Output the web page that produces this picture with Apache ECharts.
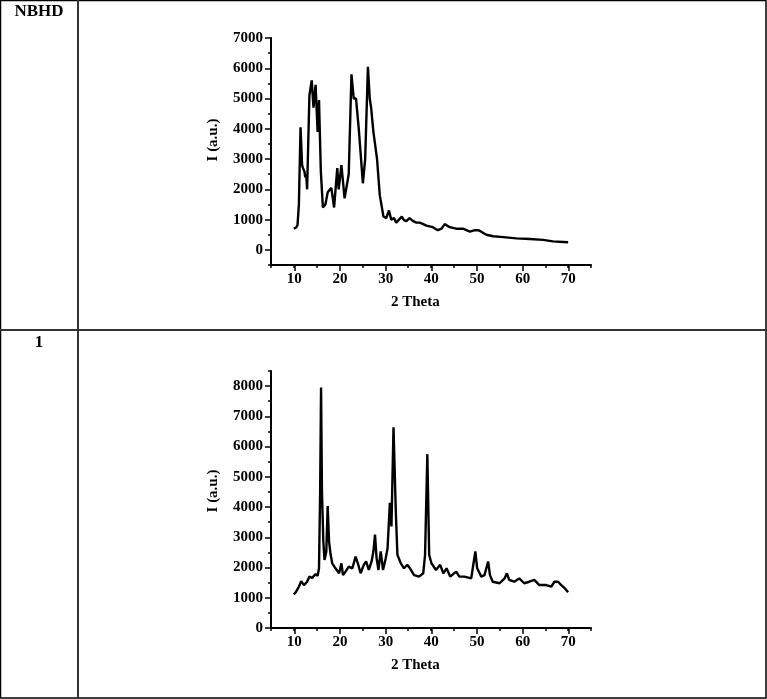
<!DOCTYPE html>
<html>
<head>
<meta charset="utf-8">
<script src="https://cdn.jsdelivr.net/npm/echarts@6/dist/echarts.min.js"></script>
<style>
  html, body { margin: 0; padding: 0; background: #fff; }
  #chart { width: 767px; height: 699px; }
</style>
</head>
<body>
<div id="chart"></div>
<script>
// NBHD pattern: [2 theta, intensity]
const nbhdData = [
  [10, 700], [10.3, 760], [10.5, 740], [10.8, 820], [11.1, 1500], [11.46, 4050], [11.8, 2800],
  [12, 2700], [12.3, 2600], [12.5, 2400], [12.7, 2500], [12.9, 2000], [13.4, 5100],
  [13.9, 5600], [14.3, 4700], [14.75, 5450], [15.2, 3900], [15.5, 4950], [15.9, 2600],
  [16.35, 1400], [16.9, 1500], [17.4, 1900], [18.2, 2050], [18.8, 1400], [19.5, 2700],
  [19.8, 2000], [20.4, 2800], [21.1, 1700], [21.5, 1650], [22, 2500], [22.6, 5800],
  [23.1, 5000], [23.6, 5000], [24.2, 4000], [25.1, 2200], [25.6, 3000], [26.2, 6050],
  [26.6, 5000], [26.9, 4700], [27.4, 3900], [28.2, 3000], [28.8, 1800], [29.6, 1100],
  [30.2, 1050], [30.8, 1300], [31.3, 1000], [31.9, 1050], [32.4, 900], [33.6, 1100], [34.1, 980], [34.6, 950],
  [35.3, 1050], [36, 960], [36.8, 900], [37.5, 900], [38.2, 860], [39, 800], [40.4, 750], [41.5, 650],
  [42.3, 700], [43, 850], [44.1, 750], [45.5, 700], [47, 700], [48.5, 600],
  [49.6, 650], [50.3, 650], [51, 600], [52.1, 500], [53.6, 450], [55.8, 420], [58.7, 380],
  [61.6, 360], [64.5, 330], [66.7, 280], [68.9, 260], [70, 250]
]

// compound 1 pattern: [2 theta, intensity]
const comp1Data = [
  [10, 1110], [10.4, 1180], [11.1, 1365], [11.6, 1550], [12.2, 1420], [12.9, 1530],
  [13.4, 1700], [14, 1660], [14.75, 1780], [15.2, 1730], [15.5, 1975], [15.75, 4500],
  [15.95, 7950], [16.15, 4500], [16.45, 2860], [16.7, 2250], [17.1, 2530], [17.4, 4030],
  [17.7, 2860], [18.05, 2420], [18.4, 2140], [19.1, 1975], [19.9, 1810], [20.4, 2140],
  [20.75, 1750], [21.3, 1865], [22, 2030], [22.8, 1975], [23.5, 2360], [24, 2140],
  [24.6, 1810], [25.3, 2090], [25.8, 2200], [26.4, 1920], [27, 2200], [27.4, 2530],
  [27.75, 3090], [28.1, 2310], [28.5, 1920], [29, 2530], [29.5, 1920], [30.1, 2310],
  [30.5, 2640], [31, 4140], [31.35, 3360], [31.8, 6640], [32.3, 3860], [32.65, 2420],
  [33.4, 2140], [34.1, 1975], [34.8, 2090], [35.4, 1975], [36.3, 1750], [37.4, 1700],
  [38.3, 1810], [38.7, 2420], [39.2, 5750], [39.6, 2420], [40.1, 2140], [41.1, 1920],
  [42, 2090], [42.7, 1810], [43.4, 1975], [44.2, 1700], [45.5, 1865], [46.2, 1700],
  [47.3, 1700], [48.8, 1640], [49.3, 2140], [49.7, 2530], [50.1, 1975], [51, 1700],
  [51.7, 1750], [52.5, 2200], [52.9, 1750], [53.5, 1530], [55, 1480], [56.1, 1640],
  [56.6, 1810], [57.1, 1590], [58.2, 1530], [59.3, 1640], [60.4, 1480], [61.5, 1530],
  [62.6, 1590], [63.7, 1420], [65.2, 1420], [66.3, 1365], [67, 1530], [67.8, 1530],
  [68.5, 1420], [69.3, 1310], [70, 1180]
]

const rowLabels = ['NBHD', '1']
const xName = '2 Theta'
const yName = 'I (a.u.)'

const font = 'Liberation Serif'
const chart = echarts.init(document.getElementById('chart'))

const txt = { fontFamily: font, fontWeight: 'bold', fontSize: 15, color: '#000' }
const plain = v => String(v)

// main axes: line + minor ticks, no labels
const mainX = (gridIndex) => ({
  type: 'value', gridIndex, min: 5, max: 75, interval: 5,
  axisLine: { show: true, onZero: false, lineStyle: { color: '#000', width: 2 } },
  axisTick: { show: true, length: 3, lineStyle: { color: '#000', width: 1.5 } },
  axisLabel: { show: false },
  splitLine: { show: false }
})
const mainY = (gridIndex, min, max) => ({
  type: 'value', gridIndex, min, max, interval: 500,
  axisLine: { show: true, onZero: false, lineStyle: { color: '#000', width: 2 } },
  axisTick: { show: true, length: 3, lineStyle: { color: '#000', width: 1.5 } },
  axisLabel: { show: false },
  splitLine: { show: false }
})
// hidden helper axis
const hidden = (gridIndex) => ({ type: 'value', gridIndex, min: 0, max: 1, show: false })
// major ticks + labels
const majX = (gridIndex) => ({
  type: 'value', gridIndex, min: 10, max: 70, interval: 10,
  name: xName, nameLocation: 'middle', nameGap: 30,
  nameTextStyle: Object.assign({ padding: [0, 32, 0, 0] }, txt),
  axisLine: { show: false, onZero: false },
  axisTick: { show: true, length: 6, lineStyle: { color: '#000', width: 1.5 } },
  axisLabel: Object.assign({ margin: 7, formatter: plain }, txt),
  splitLine: { show: false }
})
const majY = (gridIndex, max, shift) => ({
  type: 'value', gridIndex, min: 0, max, interval: 1000,
  name: yName, nameLocation: 'middle', nameGap: 50,
  nameTextStyle: Object.assign({ padding: [0, 0, 0, shift] }, txt),
  axisLine: { show: false, onZero: false },
  axisTick: { show: true, length: 6, lineStyle: { color: '#000', width: 1.5 } },
  axisLabel: Object.assign({ margin: 8, formatter: plain }, txt),
  splitLine: { show: false }
})

const option = {
  backgroundColor: '#fff',
  animation: false,
  grid: [
    // top chart: main, x-major, y-major
    { left: 271, top: 38, width: 320, height: 227 },
    { left: 294.3, top: 38, width: 274, height: 227 },
    { left: 271, top: 38, width: 320, height: 212 },
    // bottom chart
    { left: 271, top: 371, width: 320, height: 257 },
    { left: 294.3, top: 371, width: 274, height: 257 },
    { left: 271, top: 386, width: 320, height: 242 }
  ],
  xAxis: [mainX(0), majX(1), hidden(2), mainX(3), majX(4), hidden(5)],
  yAxis: [mainY(0, -500, 7000), hidden(1), majY(2, 7000, 8), mainY(3, 0, 8500), hidden(4), majY(5, 8000, 32)],
  series: [
    {
      type: 'line', xAxisIndex: 0, yAxisIndex: 0, data: nbhdData,
      showSymbol: false, lineStyle: { color: '#000', width: 2.4 }
    },
    {
      type: 'line', xAxisIndex: 3, yAxisIndex: 3, data: comp1Data,
      showSymbol: false, lineStyle: { color: '#000', width: 2.4 }
    }
  ],
  graphic: [
    // table borders
    { type: 'rect', shape: { x: 0.5, y: 0.5, width: 765.5, height: 697.5 }, style: { fill: 'none', stroke: '#000', lineWidth: 1.5 } },
    { type: 'line', shape: { x1: 0, y1: 330, x2: 767, y2: 330 }, style: { stroke: '#333', lineWidth: 2 } },
    { type: 'line', shape: { x1: 78, y1: 0, x2: 78, y2: 699 }, style: { stroke: '#333', lineWidth: 2 } },
    {
      type: 'text', style: {
        text: rowLabels[0], x: 39, y: 12, align: 'center', verticalAlign: 'middle',
        font: 'bold 17px "Liberation Serif"', fill: '#000'
      }
    },
    {
      type: 'text', style: {
        text: rowLabels[1], x: 39, y: 343, align: 'center', verticalAlign: 'middle',
        font: 'bold 17px "Liberation Serif"', fill: '#000'
      }
    }
  ]
}
chart.setOption(option)
</script>
</body>
</html>
